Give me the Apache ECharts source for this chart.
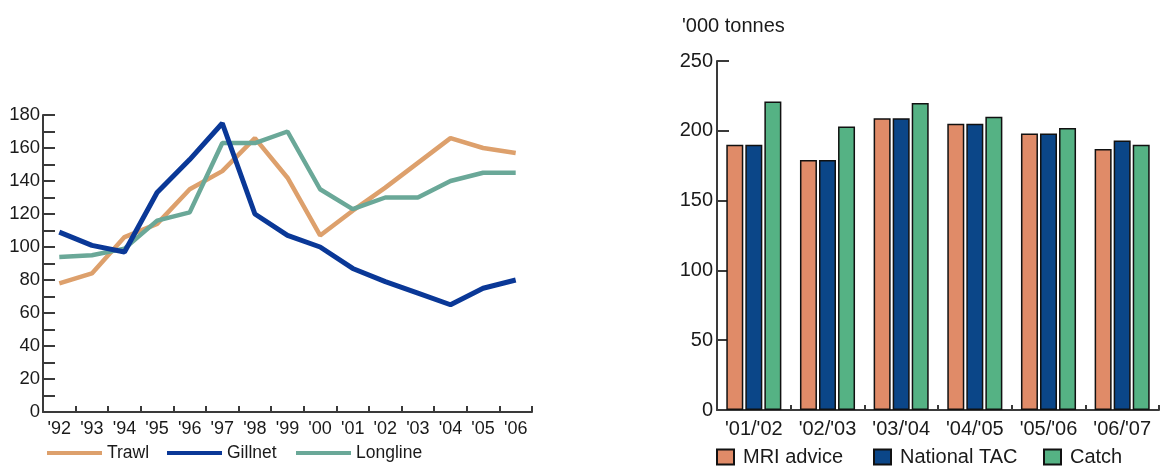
<!DOCTYPE html>
<html>
<head>
<meta charset="utf-8">
<script src="https://cdn.jsdelivr.net/npm/echarts@6/dist/echarts.min.js"></script>
<style>html,body{margin:0;padding:0;background:#fff}#c{width:1160px;height:468px}</style>
</head>
<body>
<div id="c"></div>
<script>
var years = ["'92","'93","'94","'95","'96","'97","'98","'99","'00","'01","'02","'03","'04","'05","'06"];
var trawl = [78,84,106,114,135,146,166,142,107,122,136,151,166,160,157];
var gillnet = [109,101,97,133,153,175,120,107,100,87,79,72,65,75,80];
var longline = [94,95,99,116,121,163,163,170,135,123,130,130,140,145,145];

var seasons = ["'01/'02","'02/'03","'03/'04","'04/'05","'05/'06","'06/'07"];
var mriAdvice = [190,179,209,205,198,187];
var nationalTAC = [190,179,209,205,198,193];
var catchVals = [221,203,220,210,202,190];

var leftTicks = [0,20,40,60,80,100,120,140,160,180];

var FONT = "'Liberation Sans', Arial, sans-serif";
var NARROW = "'Liberation Sans Narrow', 'Liberation Sans', Arial, sans-serif";
var chart = echarts.init(document.getElementById('c'));
var axisLineStyle = {color:'#3a3a3a', width:2};

function lineLegend(name, left){
  return {data:[name], left:left, top:444, padding:0, icon:'rect', itemWidth:55, itemHeight:4,
    textStyle:{fontFamily:FONT, fontSize:17.5, color:'#1a1a1a'}};
}
function barLegend(name, left){
  return {data:[name], left:left, top:447, padding:0, icon:'rect', itemWidth:17, itemHeight:15,
    textStyle:{fontFamily:FONT, fontSize:20, color:'#1a1a1a', padding:[0,0,0,4]}};
}

chart.setOption({
  animation:false,
  backgroundColor:'#fff',
  title:{text:"'000 tonnes", left:682, top:16, padding:0,
    textStyle:{fontFamily:FONT, fontSize:20, fontWeight:'normal', color:'#1a1a1a'}},
  legend:[
    lineLegend('Trawl',47), lineLegend('Gillnet',167), lineLegend('Longline',296),
    barLegend('MRI advice',716), barLegend('National TAC',873), barLegend('Catch',1043)
  ],
  grid:[
    {left:43, right:628, top:115, bottom:56, containLabel:false},
    {left:717, right:1, top:61, bottom:58, containLabel:false}
  ],
  xAxis:[
    {type:'category', gridIndex:0, data:years, boundaryGap:true,
      axisLine:{lineStyle:axisLineStyle},
      axisTick:{show:true, inside:true, length:6, lineStyle:{color:'#3a3a3a', width:2}},
      axisLabel:{fontFamily:NARROW, fontSize:18, color:'#1a1a1a', margin:8, interval:0}},
    {type:'category', gridIndex:1, data:seasons, boundaryGap:true,
      axisLine:{lineStyle:axisLineStyle},
      axisTick:{show:true, inside:true, length:5, lineStyle:{color:'#3a3a3a', width:2}},
      axisLabel:{fontFamily:FONT, fontSize:20, color:'#1a1a1a', margin:9, interval:0}}
  ],
  yAxis:[
    {type:'value', gridIndex:0, min:0, max:180, interval:10,
      axisLine:{show:true, lineStyle:axisLineStyle},
      axisTick:{show:true, inside:true, length:12, lineStyle:{color:'#3a3a3a', width:2}},
      splitLine:{show:false},
      axisLabel:{fontFamily:FONT, fontSize:18.5, color:'#1a1a1a', margin:3,
        formatter:function(v){return leftTicks.indexOf(v)>=0 ? String(v) : '';}}},
    {type:'value', gridIndex:1, min:0, max:250, interval:50,
      axisLine:{show:true, lineStyle:axisLineStyle},
      axisTick:{show:true, inside:true, length:12, lineStyle:{color:'#3a3a3a', width:2}},
      splitLine:{show:false},
      axisLabel:{fontFamily:FONT, fontSize:20, color:'#1a1a1a', margin:4}}
  ],
  series:[
    {name:'Trawl', type:'line', xAxisIndex:0, yAxisIndex:0, data:trawl, symbol:'none',
      lineStyle:{color:'#DDA06C', width:4.5}, itemStyle:{color:'#DDA06C'}},
    {name:'Longline', type:'line', xAxisIndex:0, yAxisIndex:0, data:longline, symbol:'none',
      lineStyle:{color:'#6AA898', width:4.5}, itemStyle:{color:'#6AA898'}},
    {name:'Gillnet', type:'line', xAxisIndex:0, yAxisIndex:0, data:gillnet, symbol:'none',
      lineStyle:{color:'#0A3897', width:5}, itemStyle:{color:'#0A3897'}},
    {name:'MRI advice', type:'bar', xAxisIndex:1, yAxisIndex:1, data:mriAdvice, barWidth:17, barGap:'12%',
      itemStyle:{color:'#E08B68', borderColor:'#111', borderWidth:1.5}},
    {name:'National TAC', type:'bar', xAxisIndex:1, yAxisIndex:1, data:nationalTAC, barWidth:17, barGap:'12%',
      itemStyle:{color:'#0B4688', borderColor:'#111', borderWidth:1.5}},
    {name:'Catch', type:'bar', xAxisIndex:1, yAxisIndex:1, data:catchVals, barWidth:17, barGap:'12%',
      itemStyle:{color:'#55B284', borderColor:'#111', borderWidth:1.5}}
  ]
});
</script>
</body>
</html>
